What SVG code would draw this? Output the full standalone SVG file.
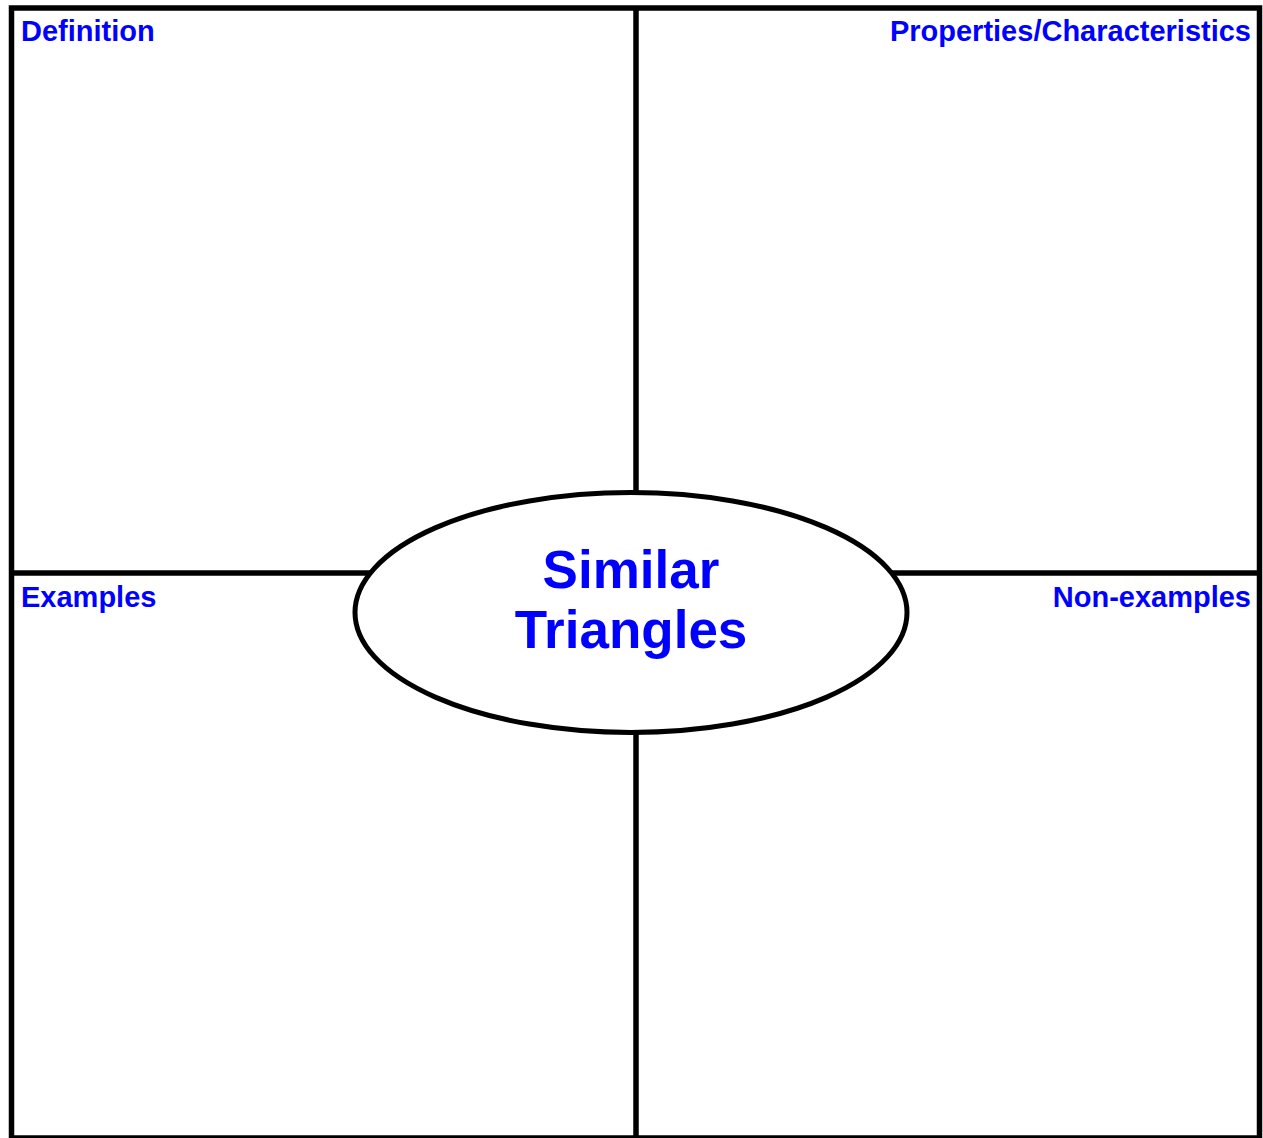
<svg xmlns="http://www.w3.org/2000/svg" width="1263" height="1138" viewBox="0 0 1263 1138">
<style>
.ln{stroke:#000;stroke-width:5.5;fill:none}
.lbl{font-family:"Liberation Sans",Arial,sans-serif;font-weight:bold;font-size:29px;fill:#0000FF}
.ttl{font-family:"Liberation Sans",Arial,sans-serif;font-weight:bold;font-size:53px;fill:#0000FF;text-anchor:middle}
</style>
<rect width="1263" height="1138" fill="#fff"/>
<g id="connectors">
<rect class="ln" x="11.5" y="8" width="1248" height="1130"/>
<line class="ln" x1="636" y1="8" x2="636" y2="1138"/>
<line class="ln" x1="11.5" y1="573" x2="1259.5" y2="573"/>
</g>
<g id="definition"><text class="lbl" x="21" y="41">Definition</text></g>
<g id="properties"><text class="lbl" x="1251" y="41" text-anchor="end">Properties/Characteristics</text></g>
<g id="examples"><text class="lbl" x="21" y="607">Examples</text></g>
<g id="nonexamples"><text class="lbl" x="1251" y="607" text-anchor="end">Non-examples</text></g>
<g id="center">
<ellipse cx="631" cy="612.5" rx="276" ry="120" fill="#fff" stroke="#000" stroke-width="5"/>
<text class="ttl" x="631" y="588">Similar</text>
<text class="ttl" x="631" y="648">Triangles</text>
</g>
</svg>
